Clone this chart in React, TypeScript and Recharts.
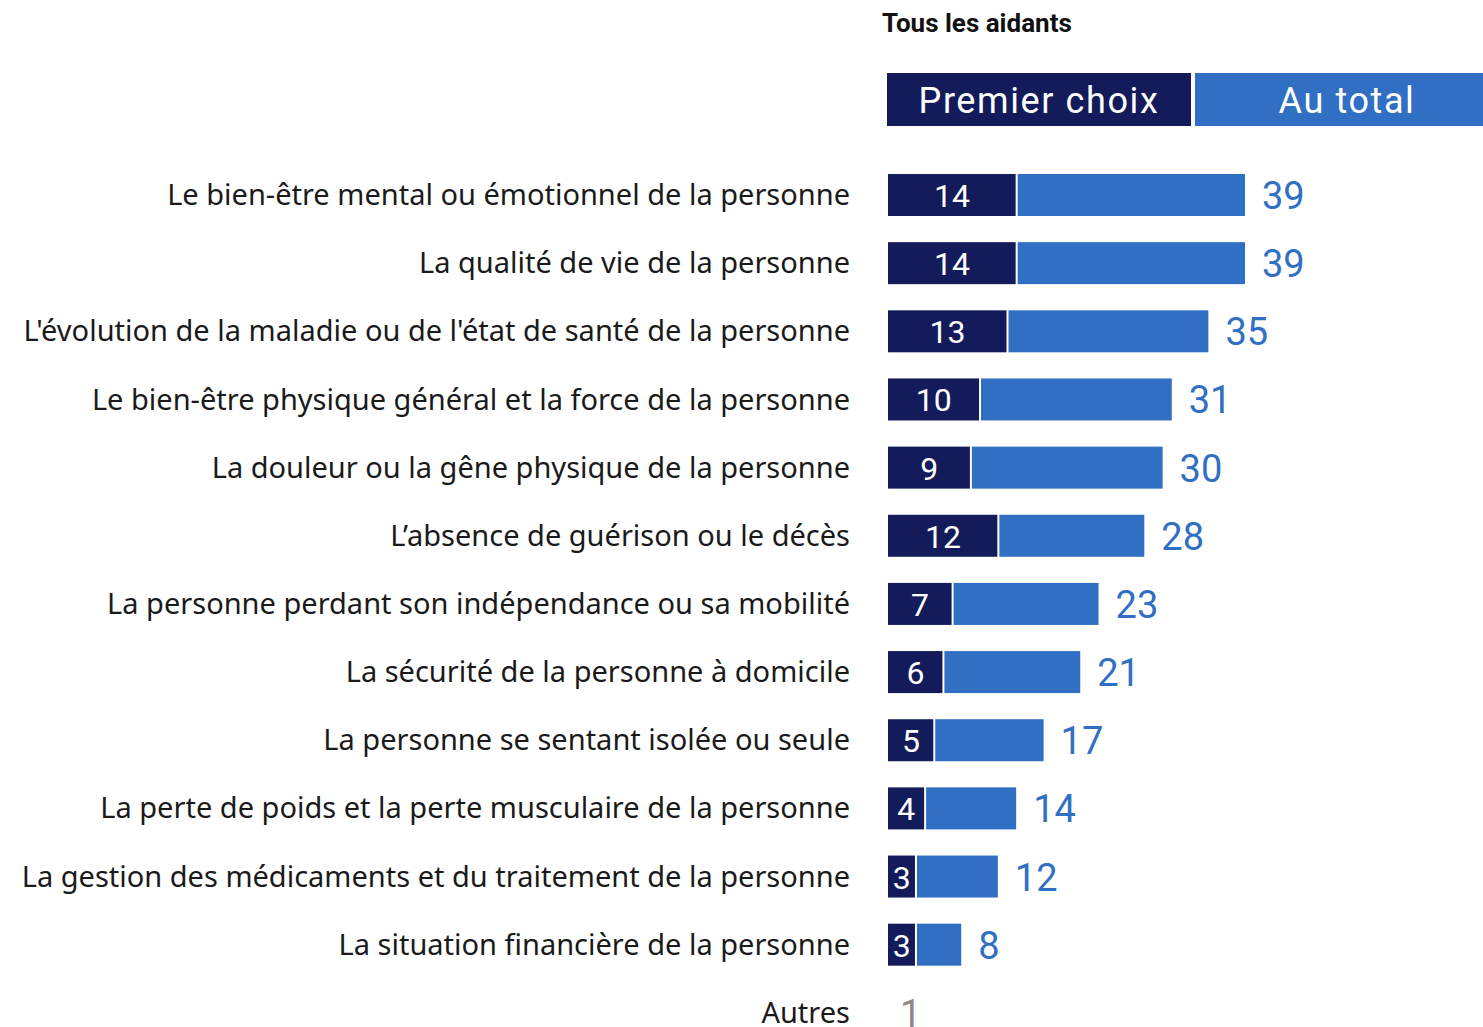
import React from "react";
import { BarChart, Bar, XAxis, YAxis, LabelList } from "recharts";

const categories = [
  "Le bien-être mental ou émotionnel de la personne",
  "La qualité de vie de la personne",
  "L'évolution de la maladie ou de l'état de santé de la personne",
  "Le bien-être physique général et la force de la personne",
  "La douleur ou la gêne physique de la personne",
  "L’absence de guérison ou le décès",
  "La personne perdant son indépendance ou sa mobilité",
  "La sécurité de la personne à domicile",
  "La personne se sentant isolée ou seule",
  "La perte de poids et la perte musculaire de la personne",
  "La gestion des médicaments et du traitement de la personne",
  "La situation financière de la personne",
  "Autres",
];
const premierChoix = [14, 14, 13, 10, 9, 12, 7, 6, 5, 4, 3, 3, 0];
const auTotal = [39, 39, 35, 31, 30, 28, 23, 21, 17, 14, 12, 8, 1];
// "Autres" has no bar drawn, only its total shown in grey
const drawBar = [true, true, true, true, true, true, true, true, true, true, true, true, false];

const DARK = "#131b5b";
const BLUE = "#306fc4";
const FONT = "Roboto, 'Noto Sans', sans-serif";
const LABEL_FONT = "'Noto Sans', Roboto, sans-serif";

const data = categories.map((c, i) => ({
  name: c,
  premier: drawBar[i] ? premierChoix[i] : 0,
  rest: drawBar[i] ? auTotal[i] - premierChoix[i] : 0,
  total: auTotal[i],
}));

const CategoryTick = (props: any) => {
  const { x, y, payload } = props;
  return (
    <text x={x - 30} y={y} dy={10} textAnchor="end" fontSize={29} fill="#1a1a1a" fontFamily={LABEL_FONT}>
      {payload.value}
    </text>
  );
};

const DarkShape = (props: any) => {
  const { x, y, width, height } = props;
  if (!width || width <= 0) return null;
  return <rect x={x} y={y} width={Math.max(width - 0.5, 0)} height={height} fill={DARK} />;
};

const BlueShape = (props: any) => {
  const { x, y, width, height } = props;
  if (!width || width <= 0) return null;
  return <rect x={x + 1.5} y={y} width={Math.max(width - 1.5, 0)} height={height} fill={BLUE} />;
};

const renderPremier = (props: any) => {
  const { x, y, width, height, value } = props;
  if (!value) return null;
  return (
    <text x={x + width / 2} y={y + height / 2} dy={12} textAnchor="middle" fontSize={32} fill="#fff" fontFamily={FONT}>
      {value}
    </text>
  );
};

const renderTotal = (props: any) => {
  const { x, y, width, height, value, index } = props;
  const grey = !drawBar[index];
  return (
    <text
      x={x + (width || 0) + (grey ? 12 : 17)}
      y={y + height / 2}
      dy={14}
      textAnchor="start"
      fontSize={38}
      fill={grey ? "#8a8a8a" : BLUE}
      fontFamily={FONT}
    >
      {value}
    </text>
  );
};

export default function App() {
  return (
    <div style={{ position: "absolute", left: 0, top: 0, width: 1483, height: 1027, overflow: "hidden", background: "#fff" }}>
      <div style={{ position: "absolute", left: 882, top: 7, fontFamily: FONT, fontWeight: 700, fontSize: 26, color: "#111", lineHeight: "32px" }}>
        Tous les aidants
      </div>
      <div
        style={{
          position: "absolute", left: 887, top: 73, width: 304, height: 53, background: DARK, color: "#fff",
          fontFamily: FONT, fontSize: 36, letterSpacing: 1.6, display: "flex", alignItems: "center", justifyContent: "center",
          paddingTop: 3, boxSizing: "border-box",
        }}
      >
        Premier choix
      </div>
      <div
        style={{
          position: "absolute", left: 1195, top: 73, width: 288, height: 53, background: BLUE, color: "#fff",
          fontFamily: FONT, fontSize: 36, letterSpacing: 1.6, display: "flex", alignItems: "center", justifyContent: "center",
          paddingTop: 3, paddingLeft: 16, boxSizing: "border-box",
        }}
      >
        Au total
      </div>
      <div style={{ position: "absolute", left: 0, top: 0 }}>
        <BarChart
          width={1483}
          height={1047}
          data={data}
          layout="vertical"
          barCategoryGap={26}
          margin={{ top: 161, right: 0, bottom: 0, left: 0 }}
        >
          <XAxis type="number" domain={[0, 65]} hide />
          <YAxis
            type="category"
            dataKey="name"
            width={888}
            axisLine={false}
            tickLine={false}
            tick={<CategoryTick />}
            interval={0}
          />
          <Bar dataKey="premier" stackId="a" barSize={42} shape={<DarkShape />} isAnimationActive={false}>
            <LabelList dataKey="premier" content={renderPremier} />
          </Bar>
          <Bar dataKey="rest" stackId="a" barSize={42} shape={<BlueShape />} isAnimationActive={false}>
            <LabelList dataKey="total" content={renderTotal} />
          </Bar>
        </BarChart>
      </div>
    </div>
  );
}
